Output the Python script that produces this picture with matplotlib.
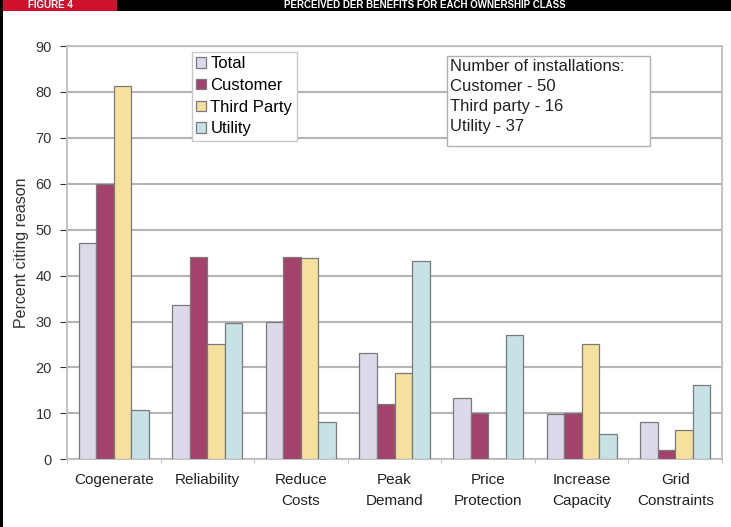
import numpy as np
import matplotlib.pyplot as plt
from matplotlib.patches import Rectangle

plt.rcParams['font.family'] = ['Liberation Sans', 'DejaVu Sans']

categories = ['Cogenerate', 'Reliability', 'Reduce\nCosts', 'Peak\nDemand',
              'Price\nProtection', 'Increase\nCapacity', 'Grid\nConstraints']
series = ['Total', 'Customer', 'Third Party', 'Utility']
total = [47, 33.6, 30, 23.2, 13.3, 9.8, 8.1]
customer = [60, 44, 44, 12, 10, 10, 2]
third_party = [81.3, 25, 43.8, 18.8, 0, 25, 6.3]
utility = [10.8, 29.7, 8.1, 43.2, 27, 5.4, 16.2]
yticks = list(range(0, 91, 10))
note_lines = ['Number of installations:', 'Customer - 50', 'Third party - 16', 'Utility - 37']

colors = ['#dcdaea', '#a3436c', '#f5e09e', '#c6e2e5']


def main():
    fig = plt.figure(figsize=(7.31, 5.27), dpi=100)
    ax = fig.add_axes([0.0917, 0.1285, 0.8960, 0.7842])

    x = np.arange(len(categories))
    w = 0.1875
    data = [total, customer, third_party, utility]
    for i, (name, vals) in enumerate(zip(series, data)):
        ax.bar(x + (i - 1.5) * w, vals, w, color=colors[i], edgecolor='#7a7a7a',
               linewidth=0.9, label=name, zorder=3)

    ax.set_xlim(-0.5, len(categories) - 0.5)
    ax.set_ylim(0, 90)
    ax.set_yticks(yticks)
    ax.tick_params(axis='y', labelsize=10.5, colors='#333333', length=5, pad=6)
    ax.set_xticks(x)
    ax.set_xticklabels(categories, fontsize=11, color='#222222', linespacing=1.6)
    ax.tick_params(axis='x', length=0, pad=10)
    ax.set_xticks(np.arange(len(categories) + 1) - 0.5, minor=True)
    ax.tick_params(axis='x', which='minor', length=3, color='#bbbbbb')
    for t in ax.get_yticklines():
        t.set_color('#aaaaaa')

    ax.yaxis.grid(True, color='#b5b5b5', linewidth=1.5, zorder=0)
    ax.set_axisbelow(True)
    for s in ax.spines.values():
        s.set_color('#bdbdbd')
        s.set_linewidth(1.3)

    ax.set_ylabel('Percent citing reason', fontsize=11.5, color='#333333')
    ax.yaxis.set_label_coords(-0.058, 0.5)

    leg = ax.legend(loc='upper left', bbox_to_anchor=(0.191, 0.985), borderaxespad=0,
                    fontsize=12, frameon=True, fancybox=False, handlelength=0.6,
                    handleheight=0.6, handletextpad=0.25, labelspacing=0.4,
                    borderpad=0.25, edgecolor='#c8c8c8', framealpha=1)
    leg.get_frame().set_linewidth(1.0)
    leg.set_zorder(5)

    box = Rectangle((0.580, 0.758), 0.310, 0.218, transform=ax.transAxes,
                    facecolor='white', edgecolor='#b0b0b0', linewidth=1.0, zorder=5)
    ax.add_patch(box)
    ax.text(0.585, 0.968, '\n'.join(note_lines), transform=ax.transAxes, fontsize=12,
            va='top', ha='left', color='#222222', linespacing=1.42, zorder=6)

    # header strip
    band = 11 / 527
    fig.patches.append(Rectangle((0, 1 - band), 1, band, transform=fig.transFigure,
                                 facecolor='black', edgecolor='none'))
    fig.patches.append(Rectangle((0, 1 - band), 117 / 731, band,
                                 transform=fig.transFigure, facecolor='#d0112b',
                                 edgecolor='none'))
    fig.patches.append(Rectangle((0, 0), 3 / 731, 1, transform=fig.transFigure,
                                 facecolor='black', edgecolor='none'))
    fig.text(50 / 731, 1 - band / 2, 'FIGURE 4', color='white', fontsize=7,
             fontweight='bold', ha='center', va='center')
    fig.text(425 / 731, 1 - band / 2, 'PERCEIVED DER BENEFITS FOR EACH OWNERSHIP CLASS',
             color='white', fontsize=7, fontweight='bold', ha='center', va='center')

    fig.savefig('out.png', dpi=100)


if __name__ == "__main__":
    main()
